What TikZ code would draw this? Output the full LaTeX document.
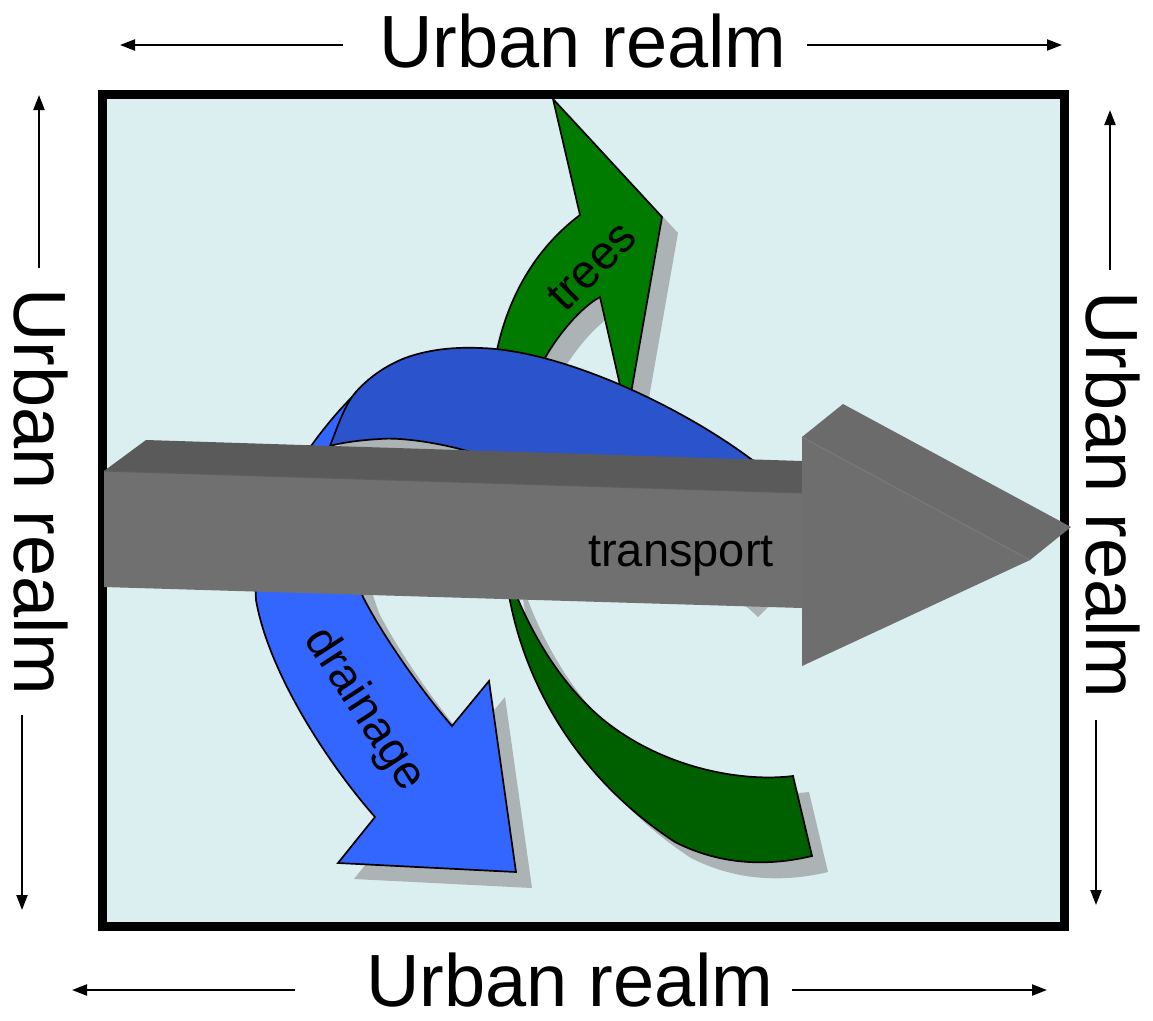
\documentclass[tikz,border=0pt]{standalone}
\usepackage{fontspec}
\setmainfont{Liberation Sans}
\usetikzlibrary{arrows.meta}

\definecolor{bgcyan}{HTML}{DBEEF0}
\definecolor{shadowgray}{HTML}{ABB3B4}
\definecolor{treegreen}{HTML}{007B00}
\definecolor{treedark}{HTML}{006000}
\definecolor{drainblue}{HTML}{3366FF}
\definecolor{drainback}{HTML}{2A53CC}
\definecolor{shaftfront}{HTML}{707070}
\definecolor{shafttop}{HTML}{5A5A5A}
\definecolor{headtop}{HTML}{6B6B6B}
\definecolor{headfront}{HTML}{6E6E6E}
\definecolor{edgegray}{HTML}{7A7A7A}

% outlines of the curved ribbons (pixel-like units, y grows downward)
\newcommand\pathTreesLow{(505,565) .. controls (513,660) and (565,770) .. (675,842)
  .. controls (722,866) and (770,866) .. (812,856) -- (793,776)
  .. controls (745,782) and (670,770) .. (610,725)
  .. controls (570,695) and (530,640) .. (505,565) -- cycle}
\newcommand\pathDrainage{(352,397) .. controls (300,450) and (252,530) .. (256,600)
  .. controls (268,670) and (325,760) .. (375,817) -- (338,863) -- (516,872)
  -- (489,681) -- (452,726) .. controls (425,695) and (385,640) .. (363,597)
  .. controls (350,560) and (335,510) .. (333,470) -- (331,448) -- (347,420)
  -- (356,400) -- cycle}
\newcommand\pathTreesUp{(580,215) -- (553,99) -- (662,217) -- (627,416) -- (600,297)
  .. controls (580,308) and (558,335) .. (545,358)
  .. controls (532,385) and (520,430) .. (515,470) -- (485,470)
  .. controls (487,430) and (490,385) .. (497,350)
  .. controls (510,290) and (540,245) .. (580,215) -- cycle}
\newcommand\pathHump{(330,446) .. controls (338,425) and (345,405) .. (355,393)
  .. controls (368,378) and (385,366) .. (405,358)
  .. controls (430,349) and (455,347) .. (480,348)
  .. controls (560,350) and (680,405) .. (755,462)
  .. controls (790,490) and (800,545) .. (770,573) -- (742,601)
  .. controls (700,560) and (560,480) .. (467,451)
  .. controls (440,443) and (400,437) .. (380,439)
  .. controls (360,440) and (340,443) .. (330,446) -- cycle}

\begin{document}
\begin{tikzpicture}[x=1pt,y=-1pt,
  realm/.style={font=\fontsize{74}{80}\selectfont, inner sep=0pt},
  lbl/.style={font=\fontsize{47}{50}\selectfont, inner sep=0pt},
  realmarrow/.style={line width=2.2pt, -{Triangle[length=15pt,width=11pt]}},
  band/.style={draw=black, line width=1.7pt, line join=miter},
  shade/.style={fill=shadowgray}]
\useasboundingbox (0,0) rectangle (1153,1020);

% framed field
\path[fill=bgcyan, draw=black, line width=9pt] (102,94) rectangle (1064,926);

% drop shadows
\begin{scope}[shift={(16,16)}]
  \fill[shade] \pathTreesLow;
  \fill[shade] \pathDrainage;
  \fill[shade] \pathTreesUp;
  \fill[shade] \pathHump;
\end{scope}

% ribbons
\path[band, fill=treedark] \pathTreesLow;
\path[band, fill=drainblue] \pathDrainage;
\path[band, fill=treegreen] \pathTreesUp;
\path[band, fill=drainback] \pathHump;

% transport block arrow
\fill[shafttop] (104,471) -- (146,440) -- (802,461) -- (802,493) -- cycle;
\fill[shaftfront] (104,471) -- (802,493) -- (802,608) -- (104,587) -- cycle;
\fill[headtop] (802,437) -- (843,404) -- (1071,527) -- (1030,560) -- cycle;
\fill[headfront] (802,437) -- (1030,560) -- (802,666) -- cycle;
\draw[edgegray, line width=1pt] (802,437) -- (1030,560);
\draw[shafttop!80!shaftfront, line width=1pt] (104,471) -- (802,493);

% labels
\node[lbl, anchor=base] (transport) at (681,566) {transport};
\node[lbl, rotate=45] (trees) at (592,266) {trees};
\node[lbl, rotate=-57] (drainage) at (364,710) {drainage};

% surrounding realm labels
\node[realm, anchor=base] (realmtop) at (583,67) {Urban realm};
\node[realm, anchor=base] (realmbottom) at (570,1006) {Urban realm};
\node[realm, anchor=base, rotate=-90] (realmleft) at (14,492) {Urban realm};
\node[realm, anchor=base, rotate=-90] (realmright) at (1086,495) {Urban realm};

\coordinate (tl1) at (343,45);  \coordinate (tl2) at (120,45);
\coordinate (tr1) at (807,45);  \coordinate (tr2) at (1062,45);
\coordinate (bl1) at (295,990); \coordinate (bl2) at (72,990);
\coordinate (br1) at (792,990); \coordinate (br2) at (1047,990);
\coordinate (lu1) at (39,268);  \coordinate (lu2) at (39,95);
\coordinate (ld1) at (22,715);  \coordinate (ld2) at (22,910);
\coordinate (ru1) at (1110,270); \coordinate (ru2) at (1110,110);
\coordinate (rd1) at (1096,720); \coordinate (rd2) at (1096,905);

\draw[realmarrow] (tl1) -- (tl2);
\draw[realmarrow] (tr1) -- (tr2);
\draw[realmarrow] (bl1) -- (bl2);
\draw[realmarrow] (br1) -- (br2);
\draw[realmarrow] (lu1) -- (lu2);
\draw[realmarrow] (ld1) -- (ld2);
\draw[realmarrow] (ru1) -- (ru2);
\draw[realmarrow] (rd1) -- (rd2);
\end{tikzpicture}
\end{document}
